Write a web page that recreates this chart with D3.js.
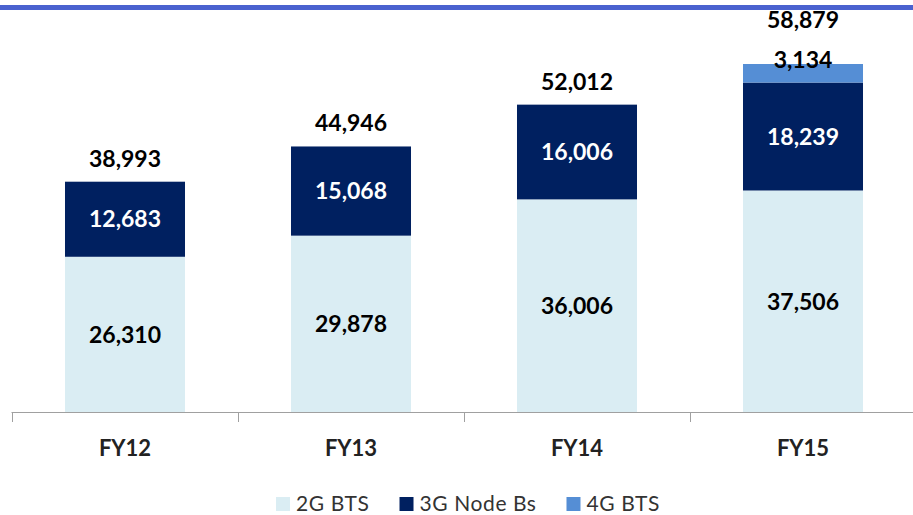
<!DOCTYPE html>
<html>
<head>
<meta charset="utf-8">
<script src="https://cdn.jsdelivr.net/npm/d3@7"></script>
<style>
  body { margin: 0; background: #fff; }
  svg text { font-family: Lato, "Open Sans", sans-serif; }
</style>
</head>
<body>
<div id="chart-area"></div>
<script>
const WIDTH = 913
const HEIGHT = 515

// data
const categories = ["FY12", "FY13", "FY14", "FY15"]
const series2G = [26310, 29878, 36006, 37506]
const series3G = [12683, 15068, 16006, 18239]
const series4G = [0, 0, 0, 3134]
const totals = [38993, 44946, 52012, 58879]
const seriesNames = ["2G BTS", "3G Node Bs", "4G BTS"]
const colors = ["#daedf3", "#002060", "#558ed5"]
const labelColors = ["#000", "#fff", "#000"]

const svg = d3.select("#chart-area").append("svg")
	.attr("width", WIDTH)
	.attr("height", HEIGHT)

// top rule
svg.append("rect")
	.attr("x", 0).attr("y", 5)
	.attr("width", WIDTH).attr("height", 5)
	.attr("fill", "#4a62cf")

// scales
const x = d3.scaleBand()
	.domain(categories)
	.range([12, 916])
	.paddingInner(0.469)
	.paddingOuter(0.2345)
const xOuter = d3.scaleBand().domain(categories).range([12, 916])
const y = d3.scaleLinear().domain([0, 58879]).range([412.5, 64])

const table = categories.map((c, i) => ({
	cat: c, s0: series2G[i], s1: series3G[i], s2: series4G[i], total: totals[i]
}))
const stacked = d3.stack().keys(["s0", "s1", "s2"])(table)

// bars
stacked.forEach((layer, k) => {
	svg.append("g").selectAll("rect")
		.data(layer.filter(d => d[1] > d[0]))
		.enter().append("rect")
		.attr("x", d => x(d.data.cat))
		.attr("width", x.bandwidth())
		.attr("y", d => y(d[1]))
		.attr("height", d => y(d[0]) - y(d[1]))
		.attr("fill", colors[k])
})

// segment labels
const fmt = d3.format(",")
const LABEL_SIZE = 23
stacked.forEach((layer, k) => {
	svg.append("g").selectAll("text")
		.data(layer.filter(d => d[1] > d[0]))
		.enter().append("text")
		.attr("x", d => x(d.data.cat) + x.bandwidth() / 2)
		.attr("y", d => k === 2 ? y(d[1]) + 4 : (y(d[0]) + y(d[1])) / 2 + 8)
		.attr("text-anchor", "middle")
		.attr("font-size", LABEL_SIZE)
		.attr("font-weight", "bold")
		.attr("fill", labelColors[k])
		.text(d => fmt(d[1] - d[0]))
})

// total labels
svg.append("g").selectAll("text")
	.data(table)
	.enter().append("text")
	.attr("x", d => x(d.cat) + x.bandwidth() / 2)
	.attr("y", d => y(d.total) - (d.s2 > 0 ? 36 : 15))
	.attr("text-anchor", "middle")
	.attr("font-size", LABEL_SIZE)
	.attr("font-weight", "bold")
	.attr("fill", "#000")
	.text(d => fmt(d.total))

// x axis
const axis = svg.append("g").attr("stroke", "#a0a0a0").attr("stroke-width", 1)
axis.append("line")
	.attr("x1", 11.5).attr("x2", WIDTH)
	.attr("y1", 412.5).attr("y2", 412.5)
axis.selectAll(".tick")
	.data(categories)
	.enter().append("line")
	.attr("x1", d => Math.round(xOuter(d)) + 0.5)
	.attr("x2", d => Math.round(xOuter(d)) + 0.5)
	.attr("y1", 412.5).attr("y2", 422)

svg.append("g").selectAll("text")
	.data(categories)
	.enter().append("text")
	.attr("x", d => x(d) + x.bandwidth() / 2)
	.attr("y", 456)
	.attr("text-anchor", "middle")
	.attr("font-size", 22)
	.attr("font-weight", "bold")
	.attr("fill", "#222")
	.text(d => d)

// legend
const legend = svg.append("g")
let lx = 0
seriesNames.forEach((name, i) => {
	const item = legend.append("g").attr("transform", `translate(${lx}, 0)`)
	item.append("rect")
		.attr("x", 0).attr("y", 497)
		.attr("width", 14).attr("height", 14)
		.attr("fill", colors[i])
	const t = item.append("text")
		.attr("x", 20).attr("y", 511)
		.attr("font-size", 21)
		.attr("letter-spacing", 0.6)
		.attr("fill", "#333")
		.text(name)
	lx += 20 + t.node().getComputedTextLength() + 30
})
const legendWidth = lx - 30
legend.attr("transform", `translate(${468 - legendWidth / 2}, 0)`)
</script>
</body>
</html>
